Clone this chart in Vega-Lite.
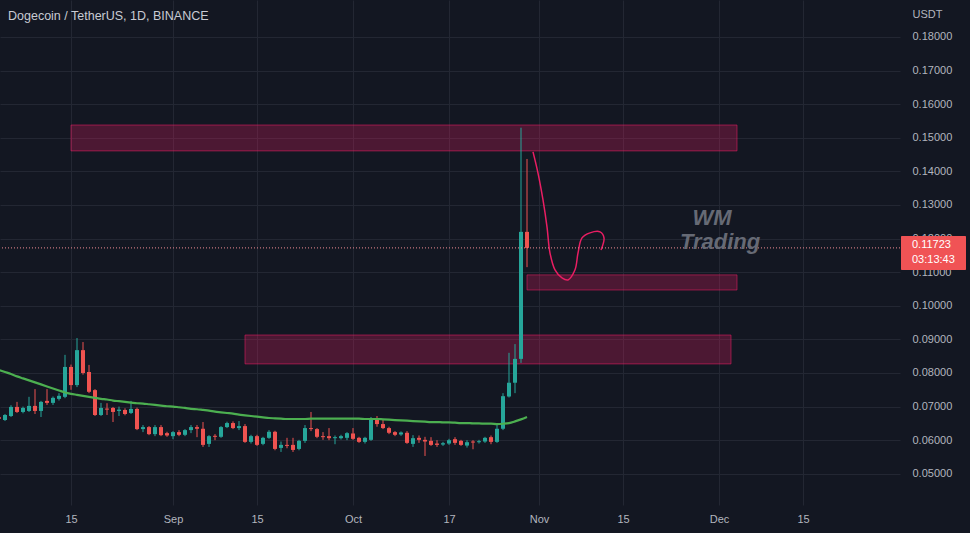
{
  "$schema": "https://vega.github.io/schema/vega-lite/v6.json",
  "width": 900,
  "height": 505,
  "autosize": {"type": "none"},
  "padding": {"left": 0, "top": 0, "right": 70, "bottom": 28},
  "background": "#131722",
  "title": {"text": "Dogecoin / TetherUS, 1D, BINANCE", "anchor": "start", "frame": "group", "orient": "top", "offset": -22, "dx": 8, "dy": 13, "baseline": "bottom", "color": "#c8cbd3", "fontSize": 12.5, "font": "Liberation Sans", "fontWeight": "normal"},
  "config": {
    "view": {"stroke": null},
    "scale": {"continuousPadding": 0},
    "axis": {"domain": false, "ticks": false, "tickSize": 0, "labelColor": "#b2b5be", "labelFont": "Liberation Sans", "labelFontSize": 11, "gridColor": "#232733", "gridWidth": 1, "labelOverlap": false, "labelFlush": false, "zindex": 0}
  },
  "datasets": {
    "candles": [
      {"d":"2022-08-03","open":0.0668,"high":0.0672,"low":0.0660,"close":0.0664,"ma":0.0809},
      {"d":"2022-08-04","open":0.0660,"high":0.0678,"low":0.0657,"close":0.0675,"ma":0.0803},
      {"d":"2022-08-05","open":0.0672,"high":0.0704,"low":0.0669,"close":0.0699,"ma":0.0797},
      {"d":"2022-08-06","open":0.0699,"high":0.0714,"low":0.0681,"close":0.0684,"ma":0.0790},
      {"d":"2022-08-07","open":0.0684,"high":0.0700,"low":0.0680,"close":0.0696,"ma":0.0784},
      {"d":"2022-08-08","open":0.0687,"high":0.0729,"low":0.0684,"close":0.0702,"ma":0.0778},
      {"d":"2022-08-09","open":0.0702,"high":0.0752,"low":0.0678,"close":0.0687,"ma":0.0772},
      {"d":"2022-08-10","open":0.0687,"high":0.0717,"low":0.0669,"close":0.0714,"ma":0.0766},
      {"d":"2022-08-11","open":0.0717,"high":0.0752,"low":0.0705,"close":0.0711,"ma":0.0760},
      {"d":"2022-08-12","open":0.0711,"high":0.0730,"low":0.0705,"close":0.0726,"ma":0.0754},
      {"d":"2022-08-13","open":0.0723,"high":0.0740,"low":0.0718,"close":0.0732,"ma":0.0748},
      {"d":"2022-08-14","open":0.0729,"high":0.0854,"low":0.0725,"close":0.0818,"ma":0.0742},
      {"d":"2022-08-15","open":0.0818,"high":0.0825,"low":0.0750,"close":0.0764,"ma":0.0738},
      {"d":"2022-08-16","open":0.0764,"high":0.0904,"low":0.0758,"close":0.0868,"ma":0.0735},
      {"d":"2022-08-17","open":0.0868,"high":0.0892,"low":0.0795,"close":0.0800,"ma":0.0732},
      {"d":"2022-08-18","open":0.0803,"high":0.0824,"low":0.0740,"close":0.0744,"ma":0.0729},
      {"d":"2022-08-19","open":0.0749,"high":0.0752,"low":0.0672,"close":0.0675,"ma":0.0726},
      {"d":"2022-08-20","open":0.0675,"high":0.0711,"low":0.0672,"close":0.0696,"ma":0.0723},
      {"d":"2022-08-21","open":0.0694,"high":0.0710,"low":0.0675,"close":0.0691,"ma":0.0721},
      {"d":"2022-08-22","open":0.0696,"high":0.0699,"low":0.0654,"close":0.0684,"ma":0.0718},
      {"d":"2022-08-23","open":0.0687,"high":0.0700,"low":0.0672,"close":0.0691,"ma":0.0716},
      {"d":"2022-08-24","open":0.0690,"high":0.0695,"low":0.0674,"close":0.0678,"ma":0.0714},
      {"d":"2022-08-25","open":0.0681,"high":0.0717,"low":0.0678,"close":0.0693,"ma":0.0712},
      {"d":"2022-08-26","open":0.0693,"high":0.0697,"low":0.0630,"close":0.0633,"ma":0.0710},
      {"d":"2022-08-27","open":0.0633,"high":0.0645,"low":0.0624,"close":0.0639,"ma":0.0709},
      {"d":"2022-08-28","open":0.0639,"high":0.0642,"low":0.0615,"close":0.0618,"ma":0.0707},
      {"d":"2022-08-29","open":0.0618,"high":0.0645,"low":0.0612,"close":0.0639,"ma":0.0705},
      {"d":"2022-08-30","open":0.0639,"high":0.0645,"low":0.0612,"close":0.0615,"ma":0.0703},
      {"d":"2022-08-31","open":0.0621,"high":0.0625,"low":0.0610,"close":0.0614,"ma":0.0701},
      {"d":"2022-09-01","open":0.0612,"high":0.0627,"low":0.0603,"close":0.0624,"ma":0.0700},
      {"d":"2022-09-02","open":0.0624,"high":0.0630,"low":0.0612,"close":0.0616,"ma":0.0698},
      {"d":"2022-09-03","open":0.0616,"high":0.0633,"low":0.0612,"close":0.0630,"ma":0.0696},
      {"d":"2022-09-04","open":0.0630,"high":0.0645,"low":0.0621,"close":0.0639,"ma":0.0693},
      {"d":"2022-09-05","open":0.0639,"high":0.0645,"low":0.0609,"close":0.0634,"ma":0.0692},
      {"d":"2022-09-06","open":0.0634,"high":0.0654,"low":0.0580,"close":0.0586,"ma":0.0690},
      {"d":"2022-09-07","open":0.0589,"high":0.0615,"low":0.0580,"close":0.0612,"ma":0.0688},
      {"d":"2022-09-08","open":0.0613,"high":0.0618,"low":0.0600,"close":0.0610,"ma":0.0685},
      {"d":"2022-09-09","open":0.0610,"high":0.0642,"low":0.0607,"close":0.0639,"ma":0.0683},
      {"d":"2022-09-10","open":0.0639,"high":0.0655,"low":0.0636,"close":0.0651,"ma":0.0681},
      {"d":"2022-09-11","open":0.0651,"high":0.0656,"low":0.0633,"close":0.0636,"ma":0.0679},
      {"d":"2022-09-12","open":0.0636,"high":0.0657,"low":0.0630,"close":0.0642,"ma":0.0676},
      {"d":"2022-09-13","open":0.0642,"high":0.0648,"low":0.0592,"close":0.0595,"ma":0.0674},
      {"d":"2022-09-14","open":0.0595,"high":0.0616,"low":0.0590,"close":0.0612,"ma":0.0672},
      {"d":"2022-09-15","open":0.0612,"high":0.0616,"low":0.0583,"close":0.0586,"ma":0.0670},
      {"d":"2022-09-16","open":0.0589,"high":0.0610,"low":0.0585,"close":0.0607,"ma":0.0668},
      {"d":"2022-09-17","open":0.0607,"high":0.0630,"low":0.0604,"close":0.0625,"ma":0.0666},
      {"d":"2022-09-18","open":0.0625,"high":0.0628,"low":0.0570,"close":0.0574,"ma":0.0665},
      {"d":"2022-09-19","open":0.0577,"high":0.0596,"low":0.0565,"close":0.0586,"ma":0.0664},
      {"d":"2022-09-20","open":0.0586,"high":0.0607,"low":0.0576,"close":0.0583,"ma":0.0663},
      {"d":"2022-09-21","open":0.0586,"high":0.0607,"low":0.0565,"close":0.0571,"ma":0.0663},
      {"d":"2022-09-22","open":0.0574,"high":0.0601,"low":0.0570,"close":0.0598,"ma":0.0663},
      {"d":"2022-09-23","open":0.0598,"high":0.0645,"low":0.0592,"close":0.0636,"ma":0.0663},
      {"d":"2022-09-24","open":0.0636,"high":0.0684,"low":0.0627,"close":0.0633,"ma":0.0664},
      {"d":"2022-09-25","open":0.0633,"high":0.0636,"low":0.0606,"close":0.0610,"ma":0.0664},
      {"d":"2022-09-26","open":0.0612,"high":0.0624,"low":0.0601,"close":0.0609,"ma":0.0664},
      {"d":"2022-09-27","open":0.0612,"high":0.0636,"low":0.0600,"close":0.0606,"ma":0.0664},
      {"d":"2022-09-28","open":0.0606,"high":0.0614,"low":0.0588,"close":0.0609,"ma":0.0664},
      {"d":"2022-09-29","open":0.0606,"high":0.0616,"low":0.0602,"close":0.0612,"ma":0.0664},
      {"d":"2022-09-30","open":0.0607,"high":0.0624,"low":0.0600,"close":0.0621,"ma":0.0664},
      {"d":"2022-10-01","open":0.0620,"high":0.0636,"low":0.0601,"close":0.0604,"ma":0.0664},
      {"d":"2022-10-02","open":0.0607,"high":0.0610,"low":0.0592,"close":0.0595,"ma":0.0664},
      {"d":"2022-10-03","open":0.0595,"high":0.0610,"low":0.0590,"close":0.0607,"ma":0.0663},
      {"d":"2022-10-04","open":0.0601,"high":0.0669,"low":0.0598,"close":0.0666,"ma":0.0663},
      {"d":"2022-10-05","open":0.0663,"high":0.0672,"low":0.0640,"close":0.0648,"ma":0.0663},
      {"d":"2022-10-06","open":0.0648,"high":0.0660,"low":0.0633,"close":0.0636,"ma":0.0662},
      {"d":"2022-10-07","open":0.0636,"high":0.0640,"low":0.0618,"close":0.0622,"ma":0.0661},
      {"d":"2022-10-08","open":0.0624,"high":0.0627,"low":0.0612,"close":0.0616,"ma":0.0660},
      {"d":"2022-10-09","open":0.0617,"high":0.0626,"low":0.0613,"close":0.0623,"ma":0.0659},
      {"d":"2022-10-10","open":0.0622,"high":0.0627,"low":0.0589,"close":0.0592,"ma":0.0658},
      {"d":"2022-10-11","open":0.0589,"high":0.0615,"low":0.0580,"close":0.0606,"ma":0.0657},
      {"d":"2022-10-12","open":0.0607,"high":0.0614,"low":0.0592,"close":0.0601,"ma":0.0656},
      {"d":"2022-10-13","open":0.0601,"high":0.0610,"low":0.0553,"close":0.0596,"ma":0.0655},
      {"d":"2022-10-14","open":0.0598,"high":0.0609,"low":0.0583,"close":0.0586,"ma":0.0654},
      {"d":"2022-10-15","open":0.0590,"high":0.0600,"low":0.0580,"close":0.0586,"ma":0.0654},
      {"d":"2022-10-16","open":0.0587,"high":0.0595,"low":0.0583,"close":0.0591,"ma":0.0653},
      {"d":"2022-10-17","open":0.0590,"high":0.0604,"low":0.0586,"close":0.0600,"ma":0.0653},
      {"d":"2022-10-18","open":0.0603,"high":0.0609,"low":0.0586,"close":0.0592,"ma":0.0652},
      {"d":"2022-10-19","open":0.0598,"high":0.0601,"low":0.0583,"close":0.0586,"ma":0.0651},
      {"d":"2022-10-20","open":0.0584,"high":0.0600,"low":0.0578,"close":0.0594,"ma":0.0651},
      {"d":"2022-10-21","open":0.0596,"high":0.0600,"low":0.0573,"close":0.0593,"ma":0.0650},
      {"d":"2022-10-22","open":0.0594,"high":0.0601,"low":0.0590,"close":0.0597,"ma":0.0650},
      {"d":"2022-10-23","open":0.0596,"high":0.0610,"low":0.0592,"close":0.0607,"ma":0.0649},
      {"d":"2022-10-24","open":0.0609,"high":0.0614,"low":0.0588,"close":0.0595,"ma":0.0649},
      {"d":"2022-10-25","open":0.0595,"high":0.0648,"low":0.0592,"close":0.0634,"ma":0.0648},
      {"d":"2022-10-26","open":0.0634,"high":0.0740,"low":0.0630,"close":0.0731,"ma":0.0649},
      {"d":"2022-10-27","open":0.0730,"high":0.0860,"low":0.0727,"close":0.0771,"ma":0.0651},
      {"d":"2022-10-28","open":0.0771,"high":0.0886,"low":0.0740,"close":0.0842,"ma":0.0656},
      {"d":"2022-10-29","open":0.0842,"high":0.1530,"low":0.0830,"close":0.1220,"ma":0.0662},
      {"d":"2022-10-30","open":0.1220,"high":0.1437,"low":0.1115,"close":0.11723,"ma":0.0669}
    ],
    "zones": [
      {"x1":"2022-08-15","x2":"2022-12-04","y1":0.1461,"y2":0.1538},
      {"x1":"2022-10-30","x2":"2022-12-04","y1":0.1047,"y2":0.1092},
      {"x1":"2022-09-13","x2":"2022-12-03","y1":0.0827,"y2":0.0913}
    ],
    "sketch": [
      {"i":1,"t":"2022-10-31T00:00:00Z","p":0.1458},
      {"i":2,"t":"2022-10-31T20:00:00Z","p":0.1395},
      {"i":3,"t":"2022-11-01T16:00:00Z","p":0.1315},
      {"i":4,"t":"2022-11-02T08:00:00Z","p":0.1235},
      {"i":5,"t":"2022-11-02T20:00:00Z","p":0.1157},
      {"i":6,"t":"2022-11-03T16:00:00Z","p":0.1107},
      {"i":7,"t":"2022-11-04T20:00:00Z","p":0.1083},
      {"i":8,"t":"2022-11-05T20:00:00Z","p":0.1077},
      {"i":9,"t":"2022-11-07T00:00:00Z","p":0.1107},
      {"i":10,"t":"2022-11-07T12:00:00Z","p":0.1157},
      {"i":11,"t":"2022-11-08T04:00:00Z","p":0.1202},
      {"i":12,"t":"2022-11-09T12:00:00Z","p":0.1217},
      {"i":13,"t":"2022-11-11T04:00:00Z","p":0.1220},
      {"i":14,"t":"2022-11-11T20:00:00Z","p":0.1202},
      {"i":15,"t":"2022-11-11T08:00:00Z","p":0.1166}
    ],
    "watermark": [
      {"t":"2022-11-29T20:00:00Z","p":0.1261,"txt":"WM"},
      {"t":"2022-12-01T04:00:00Z","p":0.1190,"txt":"Trading"}
    ],
    "pricebox": [
      {"x1":"2022-12-31T08:00:00Z","x2":"2023-01-11T04:00:00Z","y1":0.11065,"y2":0.12077}
    ],
    "pricetext": [
      {"t":"2023-01-02T04:00:00Z","p":0.11796,"txt":"0.11723","w":"bold"},
      {"t":"2023-01-02T04:00:00Z","p":0.11350,"txt":"03:13:43","w":"bold"}
    ]
  },
  "layer": [
    {
      "data": {"name": "zones"},
      "mark": {"type": "rect", "fill": "#e91e63", "fillOpacity": 0.27, "stroke": "#e91e63", "strokeOpacity": 0.55, "strokeWidth": 1},
      "encoding": {
        "x": {
          "field": "x1", "type": "temporal", "title": null,
          "scale": {"type": "utc", "padding": 0, "domain": [{"year": 2022, "month": "aug", "date": 3, "hours": 4, "utc": true}, {"year": 2022, "month": "dec", "date": 31, "hours": 4, "utc": true}]},
          "axis": {
            "values": [
              {"year": 2022, "month": "aug", "date": 15, "utc": true},
              {"year": 2022, "month": "sep", "date": 1, "utc": true},
              {"year": 2022, "month": "sep", "date": 15, "utc": true},
              {"year": 2022, "month": "oct", "date": 1, "utc": true},
              {"year": 2022, "month": "oct", "date": 17, "utc": true},
              {"year": 2022, "month": "nov", "date": 1, "utc": true},
              {"year": 2022, "month": "nov", "date": 15, "utc": true},
              {"year": 2022, "month": "dec", "date": 1, "utc": true},
              {"year": 2022, "month": "dec", "date": 15, "utc": true}
            ],
            "tickCount": 30, "zindex": 0,
            "labelExpr": "utcdate(datum.value) == 1 ? utcFormat(datum.value, '%b') : utcFormat(datum.value, '%d')",
            "grid": true, "labelAngle": 0, "labelPadding": 8, "labelFlush": false, "labelOverlap": false, "orient": "bottom"
          }
        },
        "x2": {"field": "x2"},
        "y": {
          "field": "y1", "type": "quantitative",
          "scale": {"domain": [0.04071, 0.19101], "nice": false, "zero": false},
          "axis": {
            "orient": "right", "values": [0.05, 0.06, 0.07, 0.08, 0.09, 0.10, 0.11, 0.12, 0.13, 0.14, 0.15, 0.16, 0.17, 0.18],
            "tickCount": 30, "zindex": 0,
            "format": ".5f", "grid": true, "labelAlign": "left", "labelBaseline": "middle", "labelPadding": 12, "labelOverlap": false, "labelFlush": false, "labelBound": false,
            "title": "USDT", "titleAngle": 0, "titleAlign": "left", "titleBaseline": "middle", "titleX": 12, "titleY": 14,
            "titleColor": "#b2b5be", "titleFontWeight": "normal", "titleFontSize": 11, "titleFont": "Liberation Sans"
          }
        },
        "y2": {"field": "y2"}
      }
    },
    {
      "data": {"name": "candles"},
      "mark": {"type": "rule", "strokeWidth": 1},
      "encoding": {
        "x": {"field": "d", "type": "temporal"},
        "y": {"field": "low", "type": "quantitative"},
        "y2": {"field": "high"},
        "color": {"condition": {"test": "datum.close >= datum.open", "value": "#26a69a"}, "value": "#ef5350"}
      }
    },
    {
      "data": {"name": "candles"},
      "mark": {"type": "bar", "size": 4},
      "encoding": {
        "x": {"field": "d", "type": "temporal"},
        "y": {"field": "open", "type": "quantitative"},
        "y2": {"field": "close"},
        "color": {"condition": {"test": "datum.close >= datum.open", "value": "#26a69a"}, "value": "#ef5350"}
      }
    },
    {
      "data": {"name": "candles"},
      "mark": {"type": "line", "color": "#4caf50", "strokeWidth": 2.2, "interpolate": "monotone"},
      "encoding": {
        "x": {"field": "d", "type": "temporal"},
        "y": {"field": "ma", "type": "quantitative"}
      }
    },
    {
      "data": {"name": "sketch"},
      "mark": {"type": "line", "color": "#e91e63", "strokeWidth": 1.5, "interpolate": "catmull-rom"},
      "encoding": {
        "x": {"field": "t", "type": "temporal"},
        "y": {"field": "p", "type": "quantitative"},
        "order": {"field": "i", "type": "quantitative"}
      }
    },
    {
      "data": {"values": [{}]},
      "mark": {"type": "rule", "color": "#f08a94", "strokeWidth": 1, "strokeDash": [1, 2]},
      "encoding": {"y": {"datum": 0.11723}}
    },
    {
      "data": {"name": "watermark"},
      "mark": {"type": "text", "font": "Liberation Sans", "fontSize": 22, "fontWeight": "bold", "fontStyle": "italic", "color": "#666a75", "align": "center", "baseline": "middle"},
      "encoding": {
        "x": {"field": "t", "type": "temporal"},
        "y": {"field": "p", "type": "quantitative"},
        "text": {"field": "txt"}
      }
    },
    {
      "data": {"name": "pricebox"},
      "mark": {"type": "rect", "color": "#f05355", "opacity": 1, "cornerRadius": 1},
      "encoding": {
        "x": {"field": "x1", "type": "temporal"},
        "x2": {"field": "x2"},
        "y": {"field": "y1", "type": "quantitative"},
        "y2": {"field": "y2"}
      }
    },
    {
      "data": {"name": "pricetext"},
      "mark": {"type": "text", "font": "Liberation Sans", "fontSize": 11, "color": "#ffffff", "align": "left", "baseline": "middle"},
      "encoding": {
        "x": {"field": "t", "type": "temporal"},
        "y": {"field": "p", "type": "quantitative"},
        "text": {"field": "txt"},
        "fontWeight": {"field": "w", "type": "nominal", "scale": null}
      }
    }
  ]
}
